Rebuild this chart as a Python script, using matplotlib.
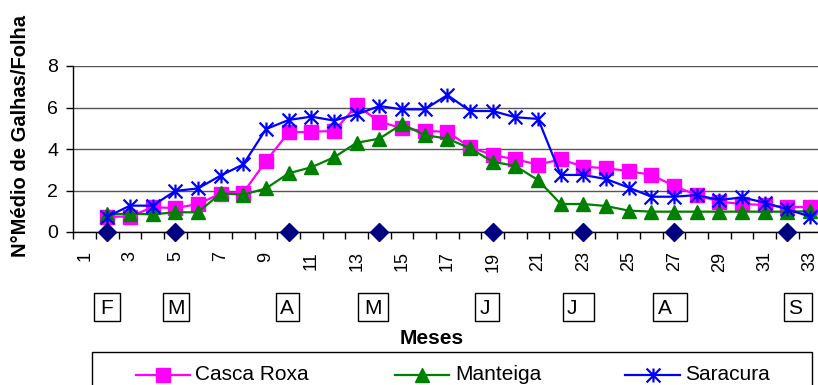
import numpy as np
import matplotlib
matplotlib.use("Agg")
import matplotlib.pyplot as plt
from matplotlib.path import Path
from matplotlib.lines import Line2D
from matplotlib.patches import Rectangle

plt.rcParams['font.family'] = ['Liberation Sans', 'DejaVu Sans']

# ---- data -------------------------------------------------------------
categories = np.arange(1, 34)
casca_roxa = [np.nan, 0.74, 0.74, 1.2, 1.15, 1.35, 1.85, 1.9, 3.42, 4.8, 4.83,
              4.87, 6.1, 5.32, 5.0, 4.87, 4.83, 4.08, 3.71, 3.5, 3.25, 3.5,
              3.15, 3.07, 2.94, 2.75, 2.22, 1.78, 1.46, 1.35, 1.3, 1.2, 1.2]
manteiga = [np.nan, 0.85, 0.88, 0.85, 0.95, 0.95, 1.86, 1.8, 2.1, 2.83, 3.12,
            3.6, 4.3, 4.5, 5.2, 4.67, 4.5, 4.03, 3.39, 3.18, 2.5, 1.35,
            1.35, 1.25, 1.03, 0.98, 0.98, 0.98, 0.98, 0.98, 0.98, 0.98, 1.0]
saracura = [np.nan, 0.74, 1.27, 1.27, 1.98, 2.1, 2.72, 3.26, 4.96, 5.4, 5.56,
            5.37, 5.67, 6.07, 5.91, 5.91, 6.6, 5.83, 5.83, 5.53, 5.45, 2.75,
            2.75, 2.55, 2.14, 1.7, 1.7, 1.78, 1.54, 1.67, 1.41, 1.09, 0.74]
month_start = [2, 5, 10, 14, 19, 23, 27, 32]
month_start_val = [0, 0, 0, 0, 0, 0, 0, 0]
month_letters = ["F", "M", "A", "M", "J", "J", "A", "S"]
tick_labels = [str(c) for c in categories[::2]]
series_names = ["Casca Roxa", "Manteiga", "Saracura"]
series_colors = ["#FF00FF", "#008000", "#0000FF"]

# ---- figure / axes ----------------------------------------------------
W, H = 818, 385
fig = plt.figure(figsize=(W / 100, H / 100), dpi=100)


def fx(px):
    return px / W


def fy(py):
    return 1 - py / H


ax_left, ax_right, ax_top, ax_bottom = 73.3, 821.5, 66, 232
ax = fig.add_axes([fx(ax_left), fy(ax_bottom),
                   (ax_right - ax_left) / W, (ax_bottom - ax_top) / H])

# asterisk marker: vertical bar plus two diagonals
star_path = Path([(0, -1), (0, 1), (-1, -1), (1, 1), (-1, 1), (1, -1)],
                 [Path.MOVETO, Path.LINETO, Path.MOVETO, Path.LINETO,
                  Path.MOVETO, Path.LINETO])

ax.plot(categories, casca_roxa, color=series_colors[0], lw=1.6, marker='s',
        ms=9.5, mec=series_colors[0], zorder=3)
ax.plot(categories, manteiga, color=series_colors[1], lw=1.6, marker='^',
        ms=10.5, mec=series_colors[1], zorder=4)
ax.plot(categories, saracura, color=series_colors[2], lw=1.6, marker=star_path,
        ms=10, mew=1.6, mec=series_colors[2], zorder=5)
ax.plot(month_start, month_start_val, ls='none', marker='D', ms=9,
        color='#000080', zorder=6, clip_on=False)

ax.set_xlim(0.5, 33.5)
ax.set_ylim(0, 8)
ax.set_yticks([0, 2, 4, 6, 8])
ax.tick_params(axis='y', labelsize=14, length=5, width=1, pad=6)
ax.set_xticks(categories[::2])
ax.set_xticklabels(tick_labels, rotation=90, fontsize=13)
ax.set_xticks(np.arange(0.5, 34.0, 1.0), minor=True)
ax.tick_params(axis='x', which='major', length=0, pad=14)
ax.tick_params(axis='x', which='minor', length=5, width=1)
ax.yaxis.grid(True, color='#555555', lw=1)
ax.set_axisbelow(True)
for s in ('top', 'right'):
    ax.spines[s].set_visible(False)
for s in ('left', 'bottom'):
    ax.spines[s].set_linewidth(1)
    ax.spines[s].set_color('black')

# ---- y label -----------------------------------------------------------
fig.text(fx(21), fy(136), "N°Médio de Galhas/Folha", rotation=90,
         ha='center', va='center', fontsize=14.5, fontweight='bold')

# ---- month boxes -------------------------------------------------------
box_x = [(94, 120, 107), (163, 189, 176), (276, 299, 287), (358, 388, 373),
         (475, 499, 485), (563, 594, 572), (653, 687, 665), (784, 812, 795)]
for letter, (x0, x1, xc) in zip(month_letters, box_x):
    fig.add_artist(Rectangle((fx(x0), fy(321)), (x1 - x0) / W, 28 / H,
                             transform=fig.transFigure, fill=False,
                             edgecolor='black', lw=1))
    fig.text(fx(xc), fy(308), letter, ha='center', va='center', fontsize=15)

fig.text(fx(432), fy(338), "Meses", ha='center', va='center', fontsize=15,
         fontweight='bold')

# ---- legend ------------------------------------------------------------
fig.add_artist(Rectangle((fx(92), fy(395)), (812 - 92) / W, 43 / H,
                         transform=fig.transFigure, fill=False,
                         edgecolor='black', lw=1))
leg_y = 375
leg_items = [(136, 190, 195, 's', 9.5, None),
             (395, 449, 455, '^', 10.5, None),
             (625, 680, 685, star_path, 10, 1.6)]
for name, color, (l0, l1, tx, mk, ms, mew) in zip(series_names, series_colors,
                                                   leg_items):
    kw = dict(mew=mew) if mew else {}
    fig.add_artist(Line2D([fx(l0), fx(l1)], [fy(leg_y), fy(leg_y)],
                          transform=fig.transFigure, color=color, lw=1.6))
    fig.add_artist(Line2D([fx((l0 + l1) / 2)], [fy(leg_y)],
                          transform=fig.transFigure, color=color, marker=mk,
                          ms=ms, mec=color, ls='none', **kw))
    fig.text(fx(tx), fy(leg_y), name, ha='left', va='center', fontsize=15)

fig.savefig("out.png", dpi=100)
